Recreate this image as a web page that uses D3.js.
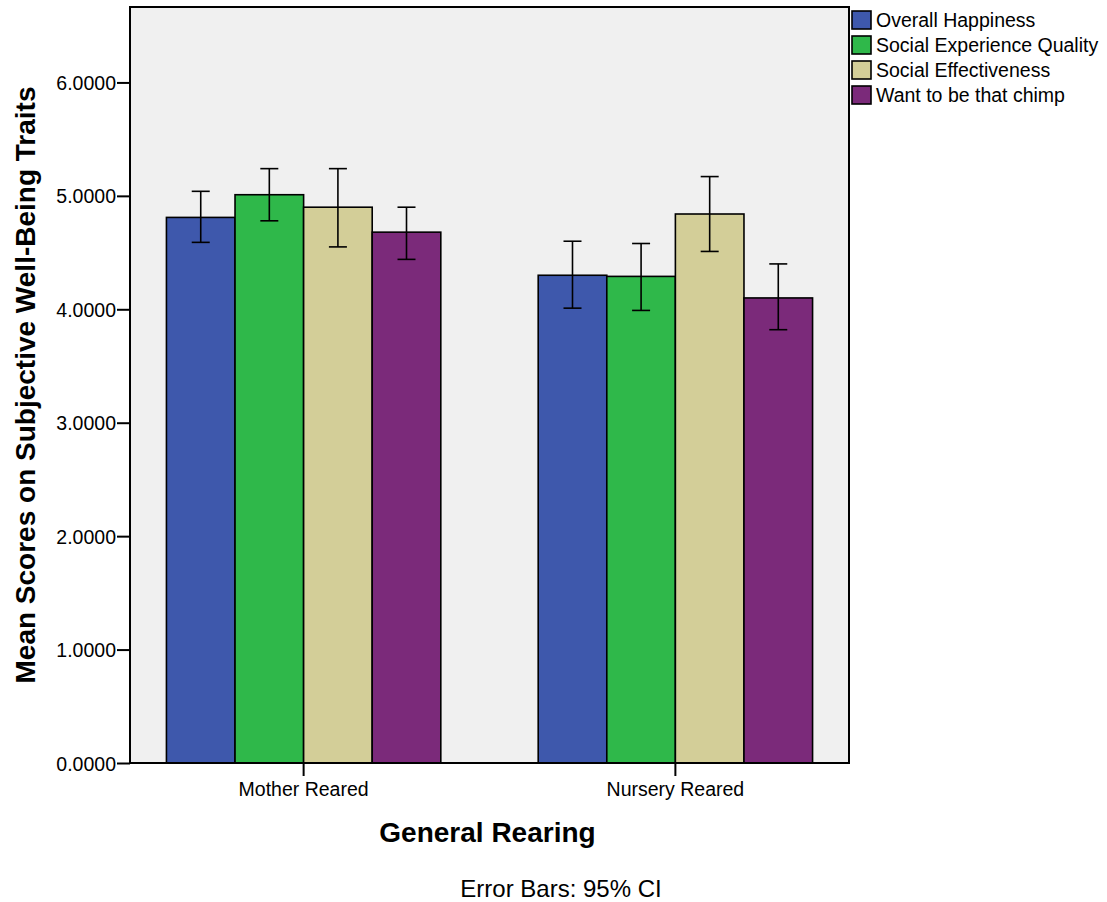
<!DOCTYPE html>
<html>
<head>
<meta charset="utf-8">
<script src="https://cdn.jsdelivr.net/npm/d3@7"></script>
<style>
  body { margin: 0; background: #fff; }
  text { font-family: "Liberation Sans", Arial, sans-serif; fill: #000; }
</style>
</head>
<body>
<svg id="chart" width="1107" height="902"></svg>
<script>
var groups = ['Mother Reared', 'Nursery Reared'];
var series = ['Overall Happiness', 'Social Experience Quality', 'Social Effectiveness', 'Want to be that chimp'];
var colors = ['#3e58ac', '#2fb84a', '#d3ce98', '#7b2a7a'];
// means, lower and upper 95% CI, per group (rows) and series (cols)
var means = [[4.81, 5.01, 4.90, 4.68], [4.30, 4.29, 4.84, 4.10]];
var lower = [[4.59, 4.78, 4.55, 4.44], [4.01, 3.99, 4.51, 3.82]];
var upper = [[5.04, 5.24, 5.24, 4.90], [4.60, 4.58, 5.17, 4.40]];
var yTicks = [0, 1, 2, 3, 4, 5, 6];

(function () {
  var svg = d3.select('#chart')
    , pLeft = 130, pRight = 849, pTop = 7, pBottom = 763
    , font = '"Liberation Sans", Arial, sans-serif'
    , x, xInner, y, rows, eb, yAxis, xAxis, leg;

  x = d3.scaleBand().domain(groups).range([pLeft, pRight]).paddingInner(0.262).paddingOuter(0.098);
  xInner = d3.scaleBand().domain(series).range([0, x.bandwidth()]);
  y = d3.scaleLinear().domain([0, 6.665]).range([pBottom, pTop]);

  // plot background
  svg.append('rect')
    .attr('x', pLeft).attr('y', pTop)
    .attr('width', pRight - pLeft).attr('height', pBottom - pTop)
    .attr('fill', '#f0f0f0');

  rows = [];
  groups.forEach(function (g, gi) {
    series.forEach(function (s, si) {
      rows.push({ g: g, s: s, i: si, m: means[gi][si], lo: lower[gi][si], hi: upper[gi][si] });
    });
  });

  svg.selectAll('rect.bar').data(rows).enter()
    .append('rect').attr('class', 'bar')
    .attr('x', function (d) { return x(d.g) + xInner(d.s); })
    .attr('y', function (d) { return y(d.m); })
    .attr('width', xInner.bandwidth())
    .attr('height', function (d) { return y(0) - y(d.m); })
    .attr('fill', function (d) { return colors[d.i]; })
    .attr('stroke', '#000').attr('stroke-width', 1.6);

  // error bars
  function cx(d) { return x(d.g) + xInner(d.s) + xInner.bandwidth() / 2; }
  eb = svg.selectAll('g.err').data(rows).enter().append('g').attr('class', 'err')
    .attr('stroke', '#000').attr('stroke-width', 1.6);
  eb.append('line')
    .attr('x1', cx).attr('x2', cx)
    .attr('y1', function (d) { return y(d.lo); }).attr('y2', function (d) { return y(d.hi); });
  eb.append('line')
    .attr('x1', function (d) { return cx(d) - 9; }).attr('x2', function (d) { return cx(d) + 9; })
    .attr('y1', function (d) { return y(d.hi); }).attr('y2', function (d) { return y(d.hi); });
  eb.append('line')
    .attr('x1', function (d) { return cx(d) - 9; }).attr('x2', function (d) { return cx(d) + 9; })
    .attr('y1', function (d) { return y(d.lo); }).attr('y2', function (d) { return y(d.lo); });

  // frame
  svg.append('rect')
    .attr('x', pLeft).attr('y', pTop)
    .attr('width', pRight - pLeft).attr('height', pBottom - pTop)
    .attr('fill', 'none').attr('stroke', '#000').attr('stroke-width', 2);

  // axes
  yAxis = svg.append('g').attr('transform', 'translate(' + pLeft + ',0)')
    .call(d3.axisLeft(y).tickValues(yTicks).tickSize(13).tickPadding(1).tickFormat(d3.format('.4f')));
  yAxis.select('.domain').remove();
  yAxis.selectAll('line').attr('stroke-width', 2);
  yAxis.selectAll('text').attr('font-size', 19.5).attr('font-family', font).attr('dy', '0.36em');

  xAxis = svg.append('g').attr('transform', 'translate(0,' + pBottom + ')')
    .call(d3.axisBottom(x).tickSize(13).tickPadding(6));
  xAxis.select('.domain').remove();
  xAxis.selectAll('line').attr('stroke-width', 2);
  xAxis.selectAll('text').attr('font-size', 19.5).attr('font-family', font);

  // titles
  svg.append('text')
    .attr('x', (pLeft + pRight) / 2 - 2).attr('y', 842)
    .attr('text-anchor', 'middle').attr('font-size', 28).attr('font-weight', 'bold')
    .text('General Rearing');
  svg.append('text')
    .attr('transform', 'translate(35,' + ((pTop + pBottom) / 2) + ') rotate(-90)')
    .attr('text-anchor', 'middle').attr('font-size', 28).attr('font-weight', 'bold')
    .text('Mean Scores on Subjective Well-Being Traits');
  svg.append('text')
    .attr('x', 561).attr('y', 897)
    .attr('text-anchor', 'middle').attr('font-size', 24)
    .text('Error Bars: 95% CI');

  // legend
  leg = svg.selectAll('g.leg').data(series).enter().append('g').attr('class', 'leg')
    .attr('transform', function (d, i) { return 'translate(852,' + (11 + i * 25) + ')'; });
  leg.append('rect')
    .attr('width', 19).attr('height', 18)
    .attr('fill', function (d, i) { return colors[i]; })
    .attr('stroke', '#000').attr('stroke-width', 1.6);
  leg.append('text')
    .attr('x', 24).attr('y', 16).attr('font-size', 19.5)
    .text(function (d) { return d; });
})();
</script>
</body>
</html>
